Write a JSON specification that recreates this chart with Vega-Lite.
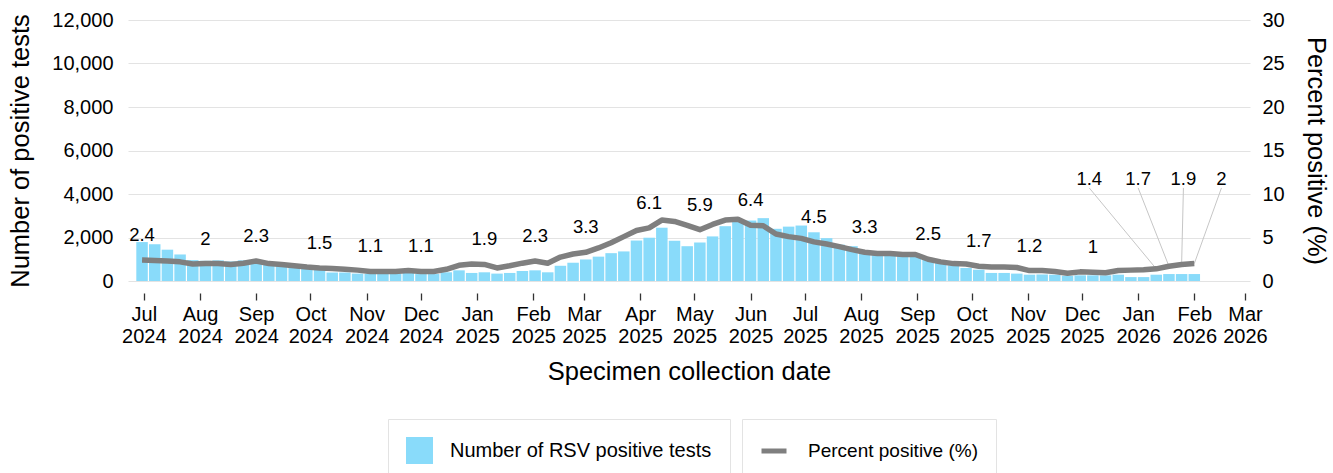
{
  "$schema": "https://vega.github.io/schema/vega-lite/v6.json",
  "autosize": {"type": "none"},
  "width": 1122,
  "height": 261,
  "padding": {"left": 128, "top": 20, "right": 83, "bottom": 192},
  "background": "white",
  "config": {
    "view": {"stroke": null},
    "font": "Liberation Sans",
    "axis": {"labelFont": "Liberation Sans", "titleFont": "Liberation Sans", "labelColor": "#000", "titleColor": "#000", "titleFontWeight": "normal", "labelFontSize": 20, "titleFontSize": 25.5},
    "legend": {"labelFont": "Liberation Sans", "labelColor": "#000", "labelFontSize": 19, "labelLimit": 0}
  },
  "datasets": {
    "weekly": [
      {"date": "2024-06-30", "count": 1790, "pct": 2.4, "label": "2.4"},
      {"date": "2024-07-07", "count": 1690, "pct": 2.35},
      {"date": "2024-07-14", "count": 1440, "pct": 2.3},
      {"date": "2024-07-21", "count": 1220, "pct": 2.2},
      {"date": "2024-07-28", "count": 960, "pct": 1.95},
      {"date": "2024-08-04", "count": 930, "pct": 2.0, "label": "2"},
      {"date": "2024-08-11", "count": 950, "pct": 2.0},
      {"date": "2024-08-18", "count": 900, "pct": 1.9},
      {"date": "2024-08-25", "count": 950, "pct": 2.05},
      {"date": "2024-09-01", "count": 880, "pct": 2.3, "label": "2.3"},
      {"date": "2024-09-08", "count": 760, "pct": 2.0},
      {"date": "2024-09-15", "count": 690, "pct": 1.9},
      {"date": "2024-09-22", "count": 640, "pct": 1.75},
      {"date": "2024-09-29", "count": 570, "pct": 1.6},
      {"date": "2024-10-06", "count": 530, "pct": 1.5, "label": "1.5"},
      {"date": "2024-10-13", "count": 390, "pct": 1.45},
      {"date": "2024-10-20", "count": 390, "pct": 1.35},
      {"date": "2024-10-27", "count": 340, "pct": 1.25},
      {"date": "2024-11-03", "count": 330, "pct": 1.1, "label": "1.1"},
      {"date": "2024-11-10", "count": 330, "pct": 1.1},
      {"date": "2024-11-17", "count": 340, "pct": 1.1},
      {"date": "2024-11-24", "count": 370, "pct": 1.2},
      {"date": "2024-12-01", "count": 320, "pct": 1.1, "label": "1.1"},
      {"date": "2024-12-08", "count": 320, "pct": 1.1},
      {"date": "2024-12-15", "count": 400, "pct": 1.35},
      {"date": "2024-12-22", "count": 490, "pct": 1.8},
      {"date": "2024-12-29", "count": 370, "pct": 1.95},
      {"date": "2025-01-05", "count": 400, "pct": 1.9, "label": "1.9"},
      {"date": "2025-01-12", "count": 340, "pct": 1.5},
      {"date": "2025-01-19", "count": 370, "pct": 1.75},
      {"date": "2025-01-26", "count": 460, "pct": 2.05},
      {"date": "2025-02-02", "count": 490, "pct": 2.3, "label": "2.3"},
      {"date": "2025-02-09", "count": 400, "pct": 2.05},
      {"date": "2025-02-16", "count": 700, "pct": 2.75},
      {"date": "2025-02-23", "count": 840, "pct": 3.1},
      {"date": "2025-03-02", "count": 990, "pct": 3.3, "label": "3.3"},
      {"date": "2025-03-09", "count": 1120, "pct": 3.8},
      {"date": "2025-03-16", "count": 1280, "pct": 4.4},
      {"date": "2025-03-23", "count": 1360, "pct": 5.1},
      {"date": "2025-03-30", "count": 1860, "pct": 5.8},
      {"date": "2025-04-06", "count": 1990, "pct": 6.1, "label": "6.1"},
      {"date": "2025-04-13", "count": 2450, "pct": 7.0},
      {"date": "2025-04-20", "count": 1850, "pct": 6.85},
      {"date": "2025-04-27", "count": 1600, "pct": 6.4},
      {"date": "2025-05-04", "count": 1770, "pct": 5.9, "label": "5.9"},
      {"date": "2025-05-11", "count": 2050, "pct": 6.5},
      {"date": "2025-05-18", "count": 2520, "pct": 7.0},
      {"date": "2025-05-25", "count": 2730, "pct": 7.1},
      {"date": "2025-06-01", "count": 2780, "pct": 6.4, "label": "6.4"},
      {"date": "2025-06-08", "count": 2890, "pct": 6.35},
      {"date": "2025-06-15", "count": 2400, "pct": 5.4},
      {"date": "2025-06-22", "count": 2500, "pct": 5.1},
      {"date": "2025-06-29", "count": 2550, "pct": 4.9},
      {"date": "2025-07-06", "count": 2240, "pct": 4.5, "label": "4.5"},
      {"date": "2025-07-13", "count": 1970, "pct": 4.25},
      {"date": "2025-07-20", "count": 1670, "pct": 3.95},
      {"date": "2025-07-27", "count": 1600, "pct": 3.6},
      {"date": "2025-08-03", "count": 1350, "pct": 3.3, "label": "3.3"},
      {"date": "2025-08-10", "count": 1250, "pct": 3.15},
      {"date": "2025-08-17", "count": 1200, "pct": 3.15},
      {"date": "2025-08-24", "count": 1180, "pct": 3.05},
      {"date": "2025-08-31", "count": 1150, "pct": 3.05},
      {"date": "2025-09-07", "count": 1030, "pct": 2.5, "label": "2.5"},
      {"date": "2025-09-14", "count": 870, "pct": 2.2},
      {"date": "2025-09-21", "count": 720, "pct": 2.0},
      {"date": "2025-09-28", "count": 600, "pct": 1.95},
      {"date": "2025-10-05", "count": 520, "pct": 1.7, "label": "1.7"},
      {"date": "2025-10-12", "count": 370, "pct": 1.6},
      {"date": "2025-10-19", "count": 370, "pct": 1.6},
      {"date": "2025-10-26", "count": 340, "pct": 1.55},
      {"date": "2025-11-02", "count": 290, "pct": 1.2, "label": "1.2"},
      {"date": "2025-11-09", "count": 300, "pct": 1.2},
      {"date": "2025-11-16", "count": 290, "pct": 1.1},
      {"date": "2025-11-23", "count": 240, "pct": 0.9},
      {"date": "2025-11-30", "count": 260, "pct": 1.05},
      {"date": "2025-12-07", "count": 260, "pct": 1.0, "label": "1"},
      {"date": "2025-12-14", "count": 260, "pct": 0.95},
      {"date": "2025-12-21", "count": 290, "pct": 1.2},
      {"date": "2025-12-28", "count": 180, "pct": 1.25},
      {"date": "2026-01-04", "count": 180, "pct": 1.3},
      {"date": "2026-01-11", "count": 290, "pct": 1.4},
      {"date": "2026-01-18", "count": 320, "pct": 1.7},
      {"date": "2026-01-25", "count": 320, "pct": 1.9},
      {"date": "2026-02-01", "count": 320, "pct": 2.0}
    ],
    "callouts": [
      {"date": "2026-01-11", "pct": 1.4, "label": "1.4", "label_date": "2025-12-05", "label_pct": 10.7},
      {"date": "2026-01-18", "pct": 1.7, "label": "1.7", "label_date": "2026-01-01", "label_pct": 10.7},
      {"date": "2026-01-25", "pct": 1.9, "label": "1.9", "label_date": "2026-01-26", "label_pct": 10.7},
      {"date": "2026-02-01", "pct": 2.0, "label": "2", "label_date": "2026-02-16", "label_pct": 10.7}
    ]
  },
  "layer": [
    {
      "data": {"name": "weekly"},
      "mark": {"type": "bar", "width": 11.5},
      "encoding": {
        "x": {
          "field": "date", "type": "temporal",
          "scale": {"type": "utc", "nice": false, "domain": [{"year": 2024, "month": 6, "date": 25, "utc": true}, {"year": 2026, "month": 3, "date": 1, "utc": true}]},
          "axis": {
            "title": "Specimen collection date",
            "tickCount": {"interval": "month", "step": 1},
            "labelExpr": "[utcFormat(datum.value, '%b'), utcFormat(datum.value, '%Y')]",
            "labelLineHeight": 22,
            "labelPadding": 4,
            "labelOverlap": false,
            "labelBound": false,
            "labelFlush": false,
            "offset": 12,
            "tickSize": 7,
            "tickColor": "#333",
            "tickWidth": 1.3,
            "domain": false,
            "grid": false,
            "titlePadding": 13
          }
        },
        "y": {
          "field": "count", "type": "quantitative",
          "scale": {"domain": [0, 12000], "nice": false},
          "axis": {
            "title": "Number of positive tests",
            "values": [0, 2000, 4000, 6000, 8000, 10000, 12000],
            "format": ",.0f",
            "grid": true,
            "gridColor": "#e3e3e3",
            "gridWidth": 1.2,
            "ticks": false,
            "domain": false,
            "labelPadding": 15,
            "titlePadding": 18
          }
        },
        "fill": {
          "datum": "Number of RSV positive tests", "type": "nominal",
          "scale": {"range": ["#89DBFA"]},
          "legend": {
            "title": null, "orient": "none", "legendX": 260, "legendY": 399,
            "padding": 18, "strokeColor": "#e3e3e3", "fillColor": "white",
            "symbolType": "square", "symbolSize": 729, "symbolStrokeWidth": 0,
            "labelOffset": 17, "labelFontSize": 20
          }
        }
      }
    },
    {
      "layer": [
        {
          "data": {"name": "callouts"},
          "mark": {"type": "rule", "color": "#c6c6c6", "strokeWidth": 1},
          "encoding": {
            "x": {"field": "label_date", "type": "temporal"},
            "x2": {"field": "date"},
            "y": {"field": "label_pct", "type": "quantitative"},
            "y2": {"field": "pct"}
          }
        },
        {
          "data": {"name": "weekly"},
          "mark": {"type": "line", "strokeWidth": 5.5, "strokeJoin": "round"},
          "encoding": {
            "x": {"field": "date", "type": "temporal"},
            "y": {
              "field": "pct", "type": "quantitative",
              "scale": {"domain": [0, 30], "nice": false},
              "axis": {
                "orient": "right",
                "title": "Percent positive (%)",
                "values": [0, 5, 10, 15, 20, 25, 30],
                "grid": false,
                "ticks": false,
                "domain": false,
                "labelPadding": 12,
                "titlePadding": 18
              }
            },
            "stroke": {
              "datum": "Percent positive (%)", "type": "nominal",
              "scale": {"range": ["#7F7F7F"]},
              "legend": {
                "title": null, "orient": "none", "legendX": 614, "legendY": 399,
                "padding": 17, "strokeColor": "#e3e3e3", "fillColor": "white",
                "symbolType": "stroke", "symbolSize": 625, "symbolStrokeWidth": 5,
                "labelOffset": 19, "labelFontSize": 19
              }
            }
          }
        },
        {
          "data": {"name": "weekly"},
          "transform": [{"filter": {"field": "label", "valid": true}}],
          "mark": {"type": "text", "fontSize": 18.5, "font": "Liberation Sans", "color": "#000", "baseline": "middle", "dy": -25},
          "encoding": {
            "x": {"field": "date", "type": "temporal"},
            "y": {"field": "pct", "type": "quantitative"},
            "text": {"field": "label"}
          }
        },
        {
          "data": {"name": "callouts"},
          "mark": {"type": "text", "fontSize": 18.5, "font": "Liberation Sans", "color": "#000", "baseline": "alphabetic", "dy": -3},
          "encoding": {
            "x": {"field": "label_date", "type": "temporal"},
            "y": {"field": "label_pct", "type": "quantitative"},
            "text": {"field": "label"}
          }
        }
      ]
    }
  ],
  "resolve": {"scale": {"y": "independent"}}
}
